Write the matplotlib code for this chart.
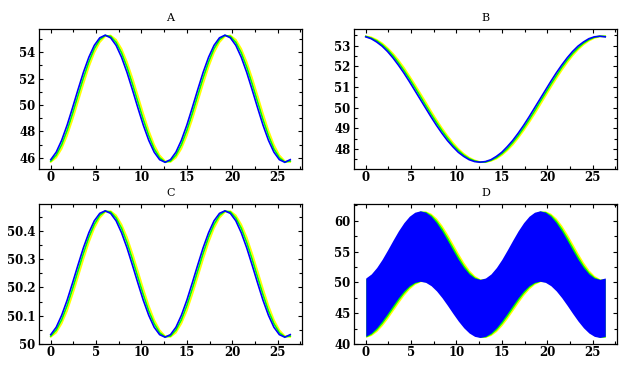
import numpy as np
import matplotlib
matplotlib.use("Agg")
import matplotlib.pyplot as plt
from matplotlib.ticker import AutoMinorLocator

# sample times (same grid for every series)
t = np.round(np.arange(0, 26.41, 0.6), 1)

# panel A
a_blue = [45.85, 46.42, 47.32, 48.47, 49.79, 51.16, 52.48, 53.63, 54.53, 55.10,
          55.30, 55.10, 54.53, 53.63, 52.48, 51.16, 49.79, 48.47, 47.32, 46.42,
          45.85, 45.65, 45.85, 46.42, 47.32, 48.47, 49.79, 51.16, 52.48, 53.63,
          54.53, 55.10, 55.30, 55.10, 54.53, 53.63, 52.48, 51.16, 49.79, 48.47,
          47.32, 46.42, 45.85, 45.65, 45.85]
a_green = [45.74, 46.19, 46.98, 48.06, 49.34, 50.71, 52.05, 53.27, 54.27, 54.96,
           55.28, 55.21, 54.76, 53.97, 52.89, 51.61, 50.25, 48.90, 47.68, 46.68,
           46.00, 45.67, 45.74, 46.19, 46.98, 48.06, 49.34, 50.71, 52.05, 53.27,
           54.27, 54.96, 55.28, 55.21, 54.76, 53.97, 52.89, 51.61, 50.25, 48.90,
           47.68, 46.68, 46.00, 45.67, 45.74]
a_yellow = [45.67, 46.00, 46.68, 47.68, 48.90, 50.25, 51.61, 52.89, 53.97, 54.76,
            55.21, 55.28, 54.96, 54.27, 53.27, 52.05, 50.71, 49.34, 48.06, 46.98,
            46.19, 45.74, 45.67, 46.00, 46.68, 47.68, 48.90, 50.25, 51.61, 52.89,
            53.97, 54.76, 55.21, 55.28, 54.96, 54.27, 53.27, 52.05, 50.71, 49.34,
            48.06, 46.98, 46.19, 45.74, 45.67]

# panel B
b_blue = [53.43, 53.34, 53.18, 52.98, 52.72, 52.41, 52.06, 51.68, 51.27, 50.84,
          50.41, 49.98, 49.55, 49.14, 48.76, 48.41, 48.11, 47.84, 47.64, 47.48,
          47.39, 47.36, 47.39, 47.48, 47.64, 47.84, 48.11, 48.41, 48.76, 49.14,
          49.55, 49.98, 50.41, 50.84, 51.27, 51.68, 52.06, 52.41, 52.72, 52.98,
          53.18, 53.34, 53.43, 53.46, 53.43]
b_green = [53.45, 53.37, 53.24, 53.05, 52.81, 52.52, 52.18, 51.81, 51.41, 50.99,
           50.56, 50.12, 49.69, 49.28, 48.89, 48.53, 48.20, 47.93, 47.70, 47.53,
           47.42, 47.36, 47.37, 47.45, 47.58, 47.77, 48.01, 48.31, 48.64, 49.01,
           49.41, 49.83, 50.27, 50.70, 51.13, 51.54, 51.94, 52.30, 52.62, 52.89,
           53.12, 53.29, 53.41, 53.46, 53.45]
b_yellow = [53.46, 53.41, 53.29, 53.12, 52.89, 52.62, 52.30, 51.94, 51.54, 51.13,
            50.70, 50.27, 49.83, 49.41, 49.01, 48.64, 48.31, 48.01, 47.77, 47.58,
            47.45, 47.37, 47.36, 47.42, 47.53, 47.70, 47.93, 48.20, 48.53, 48.89,
            49.28, 49.69, 50.12, 50.56, 50.99, 51.41, 51.81, 52.18, 52.52, 52.81,
            53.05, 53.24, 53.37, 53.45, 53.46]

# panel C
c_blue = [50.034, 50.060, 50.102, 50.155, 50.216, 50.279, 50.340, 50.393, 50.435, 50.461,
          50.470, 50.461, 50.435, 50.393, 50.340, 50.279, 50.216, 50.155, 50.102, 50.060,
          50.034, 50.025, 50.034, 50.060, 50.102, 50.155, 50.216, 50.279, 50.340, 50.393,
          50.435, 50.461, 50.470, 50.461, 50.435, 50.393, 50.340, 50.279, 50.216, 50.155,
          50.102, 50.060, 50.034, 50.025, 50.034]
c_green = [50.029, 50.050, 50.086, 50.136, 50.195, 50.258, 50.320, 50.377, 50.422, 50.454,
           50.469, 50.466, 50.445, 50.409, 50.359, 50.300, 50.237, 50.175, 50.118, 50.073,
           50.041, 50.026, 50.029, 50.050, 50.086, 50.136, 50.195, 50.258, 50.320, 50.377,
           50.422, 50.454, 50.469, 50.466, 50.445, 50.409, 50.359, 50.300, 50.237, 50.175,
           50.118, 50.073, 50.041, 50.026, 50.029]
c_yellow = [50.026, 50.041, 50.073, 50.118, 50.175, 50.237, 50.300, 50.359, 50.409, 50.445,
            50.466, 50.469, 50.454, 50.422, 50.377, 50.320, 50.258, 50.195, 50.136, 50.086,
            50.050, 50.029, 50.026, 50.041, 50.073, 50.118, 50.175, 50.237, 50.300, 50.359,
            50.409, 50.445, 50.466, 50.469, 50.454, 50.422, 50.377, 50.320, 50.258, 50.195,
            50.136, 50.086, 50.050, 50.029, 50.026]

# panel D: upper / lower edge of the dense band
d_blue_hi = [50.73, 51.38, 52.42, 53.74, 55.26, 56.84, 58.36, 59.68, 60.72, 61.37,
             61.60, 61.37, 60.72, 59.68, 58.36, 56.84, 55.26, 53.74, 52.42, 51.38,
             50.73, 50.50, 50.73, 51.38, 52.42, 53.74, 55.26, 56.84, 58.36, 59.68,
             60.72, 61.37, 61.60, 61.37, 60.72, 59.68, 58.36, 56.84, 55.26, 53.74,
             52.42, 51.38, 50.73, 50.50, 50.73]
d_blue_lo = [41.28, 41.82, 42.67, 43.76, 45.00, 46.30, 47.54, 48.63, 49.48, 50.02,
             50.20, 50.02, 49.48, 48.63, 47.54, 46.30, 45.00, 43.76, 42.67, 41.82,
             41.28, 41.10, 41.28, 41.82, 42.67, 43.76, 45.00, 46.30, 47.54, 48.63,
             49.48, 50.02, 50.20, 50.02, 49.48, 48.63, 47.54, 46.30, 45.00, 43.76,
             42.67, 41.82, 41.28, 41.10, 41.28]
d_green_hi = [50.60, 51.12, 52.03, 53.28, 54.74, 56.31, 57.86, 59.27, 60.41, 61.20,
              61.58, 61.50, 60.98, 60.07, 58.83, 57.36, 55.79, 54.24, 52.83, 51.69,
              50.90, 50.52, 50.60, 51.12, 52.03, 53.28, 54.74, 56.31, 57.86, 59.27,
              60.41, 61.20, 61.58, 61.50, 60.98, 60.07, 58.83, 57.36, 55.79, 54.24,
              52.83, 51.69, 50.90, 50.52, 50.60]
d_green_lo = [41.18, 41.61, 42.36, 43.38, 44.58, 45.87, 47.14, 48.29, 49.23, 49.87,
              50.18, 50.12, 49.69, 48.94, 47.93, 46.72, 45.43, 44.16, 43.01, 42.07,
              41.43, 41.12, 41.18, 41.61, 42.36, 43.38, 44.58, 45.87, 47.14, 48.29,
              49.23, 49.87, 50.18, 50.12, 49.69, 48.94, 47.93, 46.72, 45.43, 44.16,
              43.01, 42.07, 41.43, 41.12, 41.18]
d_yellow_hi = [50.52, 50.90, 51.69, 52.83, 54.24, 55.79, 57.36, 58.83, 60.07, 60.98,
               61.50, 61.58, 61.20, 60.41, 59.27, 57.86, 56.31, 54.74, 53.28, 52.03,
               51.12, 50.60, 50.52, 50.90, 51.69, 52.83, 54.24, 55.79, 57.36, 58.83,
               60.07, 60.98, 61.50, 61.58, 61.20, 60.41, 59.27, 57.86, 56.31, 54.74,
               53.28, 52.03, 51.12, 50.60, 50.52]
d_yellow_lo = [41.12, 41.43, 42.07, 43.01, 44.16, 45.43, 46.72, 47.93, 48.94, 49.69,
               50.12, 50.18, 49.87, 49.23, 48.29, 47.14, 45.87, 44.58, 43.38, 42.36,
               41.61, 41.18, 41.12, 41.43, 42.07, 43.01, 44.16, 45.43, 46.72, 47.93,
               48.94, 49.69, 50.12, 50.18, 49.87, 49.23, 48.29, 47.14, 45.87, 44.58,
               43.38, 42.36, 41.61, 41.18, 41.12]

x_ticks = [0, 5, 10, 15, 20, 25]
COLORS = ["#ffff00", "#00ff00", "#0000ff"]

TICK_FONT = {"family": "DejaVu Serif", "weight": "bold", "size": 8.5}


def style_axes(ax, title, ylim, yticks, ylabels):
    ax.set_xlim(-1.3, 27.7)
    ax.set_ylim(*ylim)
    ax.set_xticks(x_ticks)
    ax.set_xticklabels([str(v) for v in x_ticks], fontdict=TICK_FONT)
    ax.set_yticks(yticks)
    ax.set_yticklabels(ylabels, fontdict=TICK_FONT)
    ax.xaxis.set_minor_locator(AutoMinorLocator(2))
    ax.yaxis.set_minor_locator(AutoMinorLocator(2))
    ax.tick_params(which="both", direction="in", top=True, right=True,
                   width=0.8, colors="black")
    ax.tick_params(which="major", length=3)
    ax.tick_params(which="minor", length=2)
    ax.tick_params(axis="x", pad=1.5)
    ax.tick_params(axis="y", pad=2.5)
    for sp in ax.spines.values():
        sp.set_linewidth(0.9)
        sp.set_color("black")
    ax.set_title(title, fontfamily="DejaVu Serif", fontsize=8, pad=6)


def line_panel(ax, title, series, ylim, yticks, ylabels):
    for ys, c in zip(series, COLORS):
        ax.plot(t, ys, color=c, lw=1.2, solid_joinstyle="miter")
    style_axes(ax, title, ylim, yticks, ylabels)


fig = plt.figure(figsize=(6.3, 3.67), dpi=100)
ax_a = fig.add_axes([0.0619, 0.5395, 0.4175, 0.3815])
ax_b = fig.add_axes([0.5619, 0.5395, 0.4175, 0.3815])
ax_c = fig.add_axes([0.0619, 0.0619, 0.4175, 0.3822])
ax_d = fig.add_axes([0.5619, 0.0619, 0.4175, 0.3822])

line_panel(ax_a, "A", [a_yellow, a_green, a_blue], (45.14, 55.77),
           [46, 48, 50, 52, 54], ["46", "48", "50", "52", "54"])
line_panel(ax_b, "B", [b_yellow, b_green, b_blue], (47.03, 53.81),
           [48, 49, 50, 51, 52, 53], ["48", "49", "50", "51", "52", "53"])
line_panel(ax_c, "C", [c_yellow, c_green, c_blue], (50.0, 50.494),
           [50.0, 50.1, 50.2, 50.3, 50.4], ["50", "50.1", "50.2", "50.3", "50.4"])

bands = [(d_yellow_lo, d_yellow_hi), (d_green_lo, d_green_hi), (d_blue_lo, d_blue_hi)]
for (lo, hi), c in zip(bands, COLORS):
    ax_d.fill_between(t, lo, hi, color=c, lw=0)
style_axes(ax_d, "D", (40, 62.7), [40, 45, 50, 55, 60],
           ["40", "45", "50", "55", "60"])

fig.savefig("out.png", dpi=100)
